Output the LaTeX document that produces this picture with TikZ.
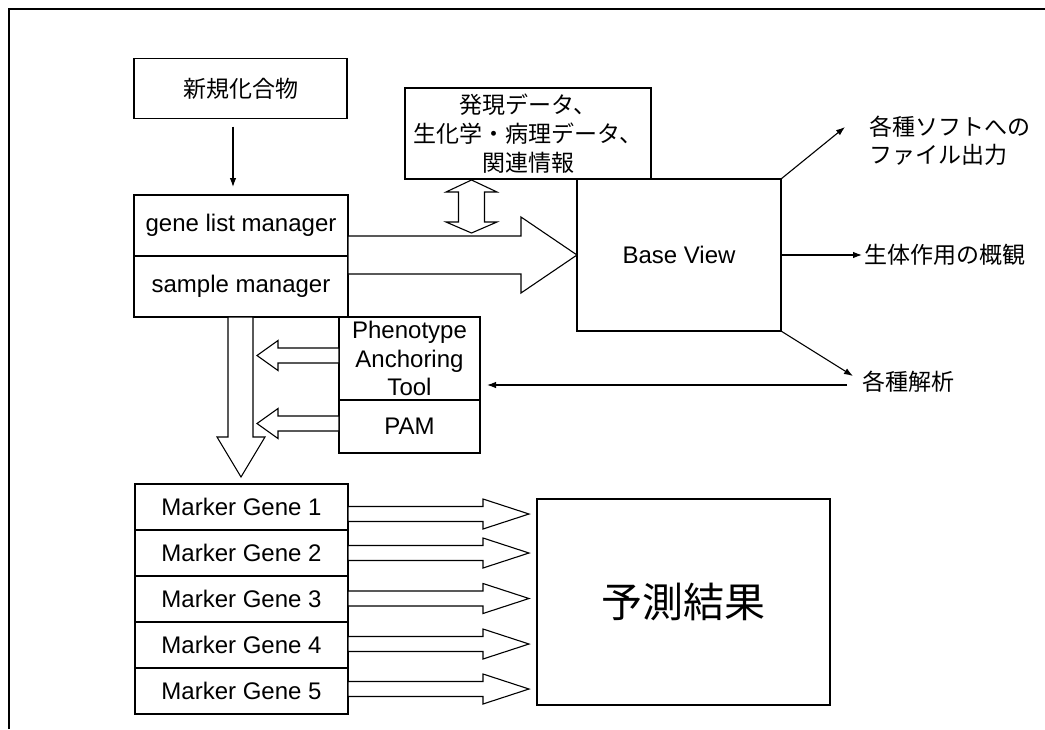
\documentclass[tikz,border=0pt]{standalone}
\usepackage{fontspec}
\setmainfont{Liberation Sans}
\newfontfamily\jpfont{Noto Sans CJK JP}
\usetikzlibrary{arrows.meta,calc}
\tikzset{
 box/.style={draw, line width=1.1pt, inner sep=0pt, outer sep=0pt, align=center, font=\fontsize{24}{28.5}\selectfont},
 jbox/.style={box, font=\jpfont\fontsize{23}{29}\selectfont},
 hollow/.style={draw, line width=1.1pt, fill=white, line join=miter},
 thinarrow/.style={line width=1.1pt, -{Latex[length=9pt,width=6.5pt]}},
 side/.style={anchor=west, inner sep=0pt, align=left, font=\jpfont\fontsize{23}{28}\selectfont},
}
\newcommand\hollowH[5]{\path[hollow] let \p1=(#1), \p2=(#2) in
  (\x1,{\y2+#4}) -- ({\x2-(#3)},{\y2+#4}) -- ({\x2-(#3)},{\y2+#5}) -- (\x2,\y2)
  -- ({\x2-(#3)},{\y2-#5}) -- ({\x2-(#3)},{\y2-#4}) -- (\x1,{\y2-#4}) -- cycle;}
\begin{document}
\begin{tikzpicture}[x=1pt,y=-1pt]
\useasboundingbox (0,0) rectangle (1045,729);
\draw[line width=2pt] (9,729) -- (9,9) -- (1045,9);

% boxes
\node[jbox, minimum width=213pt, minimum height=60pt] (new) at (240.5,88.5) {新規化合物};
\node[box, minimum width=214pt, minimum height=61pt] (glm) at (241,225.5) {gene list manager};
\node[box, minimum width=214pt, minimum height=61pt] (sm) at (241,286.5) {sample manager};
\node[jbox, minimum width=246pt, minimum height=91pt] (info) at (528,133.5) {発現データ、\\生化学・病理データ、\\関連情報};
\node[box, minimum width=204pt, minimum height=152pt] (base) at (679,255) {Base View};
\node[box, minimum width=141pt, minimum height=83pt] (pat) at (409.5,358.5) {Phenotype\\Anchoring\\Tool};
\node[box, minimum width=141pt, minimum height=53pt] (pam) at (409.5,426.5) {PAM};
\node[box, minimum width=213pt, minimum height=46pt] (mg1) at (241.5,507) {Marker Gene 1};
\node[box, minimum width=213pt, minimum height=46pt] (mg2) at (241.5,553) {Marker Gene 2};
\node[box, minimum width=213pt, minimum height=46pt] (mg3) at (241.5,599) {Marker Gene 3};
\node[box, minimum width=213pt, minimum height=46pt] (mg4) at (241.5,645) {Marker Gene 4};
\node[box, minimum width=213pt, minimum height=46pt] (mg5) at (241.5,691) {Marker Gene 5};
\node[box, minimum width=293pt, minimum height=206pt, font=\jpfont\fontsize{41}{48}\selectfont] (pred) at (683.5,602) {予測結果};

% side texts
\node[side] (soft) at (869,141) {各種ソフトへの\\ファイル出力};
\node[side] (overview) at (864,255) {生体作用の概観};
\node[side] (anal) at (862,382) {各種解析};

% thin arrows
\draw[thinarrow] ($(new.south)+(-7.5,8)$) -- ($(glm.north)+(-8,-8)$);
\coordinate (c1) at (845,127);
\coordinate (c3) at (853,376);
\draw[thinarrow] (base.north east) -- (c1);
\draw[thinarrow] (base.east) -- ($(overview.west)+(-2,0)$);
\draw[thinarrow] (base.south east) -- (c3);
\coordinate (c4) at (847,385);
\coordinate (c5) at (487,385);
\draw[thinarrow] (c4) -- (c5);

% big hollow arrows
\hollowH{glm.south east}{base.west}{56pt}{19pt}{38pt}
\path[hollow] (471.5,180) -- (497,192) -- (484.5,192) -- (484.5,222) -- (497,222) -- (471.5,233)
  -- (446,222) -- (458.5,222) -- (458.5,192) -- (446,192) -- cycle;
\path[hollow] (228,317) -- (228,437) -- (217,437) -- (241,477) -- (265,437) -- (253,437) -- (253,317) -- cycle;

% phenotype / PAM arrows
\coordinate (p1) at (257,355.5);
\coordinate (p2) at (257,423.5);
\hollowH{pat.west}{p1}{-21pt}{7.5pt}{15pt}
\hollowH{pam.west}{p2}{-21pt}{7.5pt}{15pt}

% marker arrows
\coordinate (t1) at (529,514);
\coordinate (t2) at (529,553);
\coordinate (t3) at (529,598.5);
\coordinate (t4) at (529,644);
\coordinate (t5) at (529,689);
\hollowH{mg1.east}{t1}{46pt}{7.5pt}{15pt}
\hollowH{mg2.east}{t2}{46pt}{7.5pt}{15pt}
\hollowH{mg3.east}{t3}{46pt}{7.5pt}{15pt}
\hollowH{mg4.east}{t4}{46pt}{7.5pt}{15pt}
\hollowH{mg5.east}{t5}{46pt}{7.5pt}{15pt}
\end{tikzpicture}
\end{document}
